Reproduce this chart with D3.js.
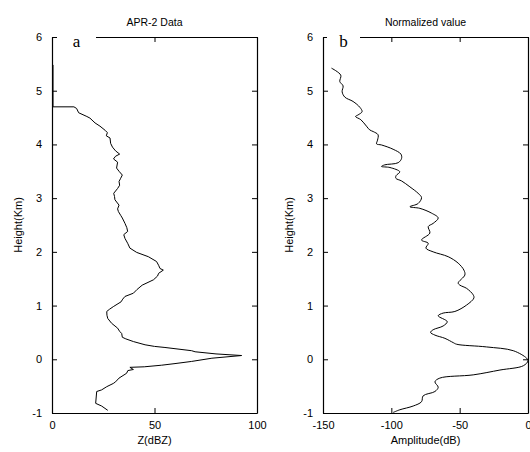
<!DOCTYPE html>
<html>
<head>
<meta charset="utf-8">
<script src="https://cdn.jsdelivr.net/npm/d3@7"></script>
<style>
  body { margin: 0; background: #fff; }
  text { font-family: "Liberation Sans", Arial, sans-serif; fill: #000; }
</style>
</head>
<body>
<div id="canvas"></div>
<script>
// panel a: reflectivity profile (height km, Z dBZ)
var aHeight = [5.48,4.70,4.70,4.67,4.59,4.52,4.49,4.40,4.34,4.26,4.22,4.16,4.12,4.02,3.95,3.88,3.82,3.78,3.73,3.67,3.56,3.50,3.43,3.37,3.31,3.24,3.18,3.09,3.03,2.97,2.87,2.80,2.75,2.68,2.63,2.53,2.45,2.38,2.32,2.25,2.16,2.07,1.99,1.91,1.82,1.75,1.69,1.66,1.60,1.55,1.48,1.38,1.30,1.23,1.17,1.12,1.07,0.98,0.93,0.89,0.82,0.76,0.67,0.58,0.52,0.48,0.41,0.38,0.33,0.27,0.24,0.22,0.16,0.14,0.10,0.07,0.02,-0.04,-0.08,-0.11,-0.14,-0.15,-0.19,-0.21,-0.26,-0.35,-0.42,-0.45,-0.51,-0.57,-0.60,-0.82,-0.87,-0.95];
var aZ = [0.5,0.5,10.7,12,13,17,18.5,21,23.4,26,27,26.5,28.3,28.6,29.5,31,33,31,30,32,31.5,32.7,34.3,33.5,32.7,33,32,30.1,30.5,30.7,32.7,32,32.4,33.5,34.3,35.6,36.5,36.9,35,35.6,36.9,38,41.3,47,51,52,52.7,54.3,52,51.5,49.5,44,41.5,39.7,35.6,34.5,33.7,29.9,28,26.7,26.8,27.2,29.1,32,33,34,34.3,36,39.7,45.4,50,55.1,68.1,69.8,80,92.5,78,68.1,60,53.5,45,38,39.7,37,36.4,32.7,31,29.9,26.7,24.2,21.8,21.3,24.2,27.2];

// panel b: normalized amplitude (height km, dB)
var bHeight = [5.42,5.29,5.17,5.09,4.98,4.88,4.80,4.69,4.61,4.55,4.52,4.46,4.34,4.27,4.24,4.18,4.08,4.01,3.99,3.91,3.82,3.74,3.66,3.62,3.59,3.57,3.49,3.42,3.37,3.32,3.21,3.09,3.01,2.90,2.84,2.81,2.72,2.63,2.53,2.47,2.35,2.22,2.16,2.07,2.00,1.91,1.79,1.66,1.57,1.42,1.38,1.32,1.20,1.14,1.01,0.89,0.86,0.81,0.70,0.62,0.55,0.50,0.45,0.39,0.31,0.28,0.23,0.16,0.02,-0.03,-0.12,-0.20,-0.29,-0.35,-0.42,-0.52,-0.60,-0.68,-0.79,-0.87,-0.94,-0.99];
var bAmp = [-143.8,-137,-137.7,-135.3,-136,-134,-128,-123,-121.4,-124.3,-126.2,-122.3,-118.2,-115.8,-113.3,-109.7,-110.1,-110.8,-107.2,-98.7,-93,-92.5,-95,-104.8,-107.2,-101,-93.8,-96.5,-96.7,-92.5,-86.4,-80.4,-77.9,-80.4,-86.4,-79.1,-70.5,-65.7,-69.4,-73,-71.8,-77.9,-73,-74.7,-69.4,-58.4,-51.1,-46.9,-46.2,-51.1,-49.8,-44.9,-40.1,-39.6,-44.9,-53.5,-62.1,-65.7,-59.1,-62.1,-69.4,-71.3,-68.1,-60.8,-54.7,-52.2,-30.3,-10.8,-1,0,-3.4,-20.5,-40.1,-64.5,-68.1,-65.7,-68.1,-76.7,-77.9,-84,-93.8,-98.7];

var heightTicks = [-1, 0, 1, 2, 3, 4, 5, 6];
var aTicks = [0, 50, 100];
var bTicks = [-150, -100, -50, 0];

var W = 530, H = 452;
var plotTop = 37, plotBottom = 413;

var svg = d3.select("#canvas").append("svg")
    .attr("width", W)
    .attr("height", H);

var y = d3.scaleLinear().domain([-1, 6]).range([plotBottom, plotTop]);
var fmt = d => String(d);

function panel(opts) {
    var x = d3.scaleLinear().domain(opts.domain).range([opts.left, opts.right]);
    var g = svg.append("g");

    // axes with inward ticks
    g.append("g").attr("transform", `translate(0,${plotBottom})`)
        .call(d3.axisBottom(x).tickValues(opts.ticks).tickSizeInner(-5).tickSizeOuter(0).tickPadding(8).tickFormat(fmt));
    g.append("g").attr("transform", `translate(0,${plotTop})`)
        .call(d3.axisTop(x).tickValues(opts.ticks).tickSizeInner(-5).tickSizeOuter(0).tickFormat(""));
    g.append("g").attr("transform", `translate(${opts.left},0)`)
        .call(d3.axisLeft(y).tickValues(heightTicks).tickSizeInner(-5).tickSizeOuter(0).tickPadding(10).tickFormat(fmt));
    g.append("g").attr("transform", `translate(${opts.right},0)`)
        .call(d3.axisRight(y).tickValues(heightTicks).tickSizeInner(-5).tickSizeOuter(0).tickFormat(""));

    g.selectAll(".domain").attr("stroke", "#000").attr("stroke-width", 1.2);
    g.selectAll(".tick line").attr("stroke", "#000").attr("stroke-width", 1);
    g.selectAll(".tick text").attr("font-size", 11).attr("fill", "#000")
        .attr("font-family", "Liberation Sans, Arial, sans-serif");

    var line = d3.line()
        .x(d => x(d[1]))
        .y(d => y(d[0]))
        .curve(opts.curve);
    g.append("path")
        .datum(d3.zip(opts.h, opts.v))
        .attr("d", line)
        .attr("fill", "none")
        .attr("stroke", "#000")
        .attr("stroke-width", 1);

    // letter label sitting on top border
    g.append("rect")
        .attr("x", opts.left + opts.gap[0]).attr("y", plotTop - 3)
        .attr("width", opts.gap[1] - opts.gap[0]).attr("height", 6)
        .attr("fill", "#fff");
    g.append("text")
        .attr("x", opts.left + (opts.gap[0] + opts.gap[1]) / 2)
        .attr("y", plotTop + 10)
        .attr("text-anchor", "middle")
        .style("font-family", "Liberation Serif, 'Times New Roman', serif")
        .attr("font-size", 17)
        .text(opts.letter);

    g.append("text")
        .attr("x", (opts.left + opts.right) / 2).attr("y", 26)
        .attr("text-anchor", "middle").attr("font-size", 10.5)
        .text(opts.title);
    g.append("text")
        .attr("x", (opts.left + opts.right) / 2).attr("y", 444)
        .attr("text-anchor", "middle").attr("font-size", 11)
        .text(opts.xlabel);
    g.append("text")
        .attr("transform", `translate(${opts.left - 30},${(plotTop + plotBottom) / 2}) rotate(-90)`)
        .attr("text-anchor", "middle").attr("font-size", 11)
        .text("Height(Km)");
}

panel({ domain: [0, 100], left: 52, right: 257, ticks: aTicks, h: aHeight, v: aZ,
    curve: d3.curveLinear, letter: "a", gap: [5, 44], title: "APR-2 Data", xlabel: "Z(dBZ)" });
panel({ domain: [-150, 0], left: 323, right: 528, ticks: bTicks, h: bHeight, v: bAmp,
    curve: d3.curveCatmullRom, letter: "b", gap: [4, 37], title: "Normalized value", xlabel: "Amplitude(dB)" });
</script>
</body>
</html>
